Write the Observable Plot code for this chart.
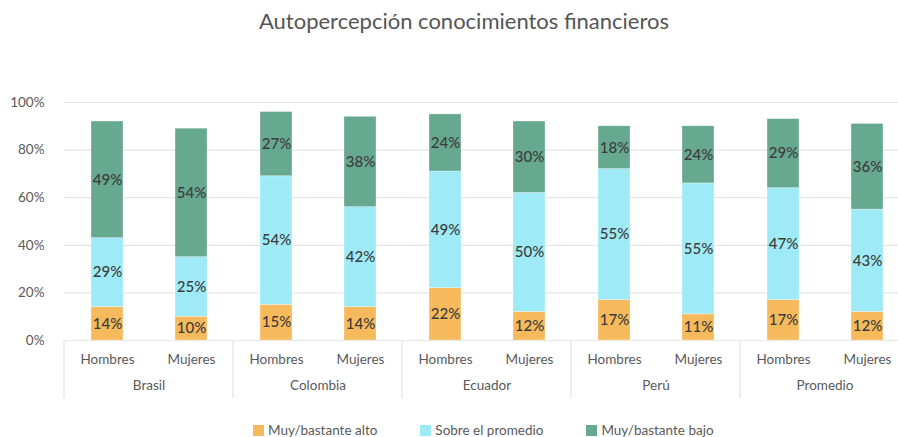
<!DOCTYPE html>
<html>
<head>
<meta charset="utf-8">
<script src="https://cdn.jsdelivr.net/npm/d3@7"></script>
<script src="https://cdn.jsdelivr.net/npm/@observablehq/plot@0.6"></script>
<style>
  html, body { margin: 0; padding: 0; background: #fff; overflow: hidden; width: 898px; height: 437px; }
  body { font-family: Lato, "Noto Sans", sans-serif; color: #595959; }
  #title { height: 40px; box-sizing: border-box; padding-left: 30px; text-align: center; font-size: 22px; line-height: 42px; color: #555; }
  #chart svg { display: block; }
  #legend { display: flex; align-items: center; padding-left: 253px; padding-top: 18px; font-size: 13.5px; line-height: 14px; color: #595959; }
  .item { display: flex; align-items: center; margin-right: 43px; }
  .sw { width: 11px; height: 11px; margin-right: 4px; }
</style>
</head>
<body>
<div id="title">Autopercepción conocimientos financieros</div>
<div id="chart"></div>
<div id="legend"></div>
<script>
const countries = ["Brasil", "Colombia", "Ecuador", "Perú", "Promedio"];
const genders = ["Hombres", "Mujeres"];
const levels = ["Muy/bastante alto", "Sobre el promedio", "Muy/bastante bajo"];
// order: Brasil H, Brasil M, Colombia H, Colombia M, Ecuador H, Ecuador M, Perú H, Perú M, Promedio H, Promedio M
const alto  = [14, 10, 15, 14, 22, 12, 17, 11, 17, 12];
const sobre = [29, 25, 54, 42, 49, 50, 55, 55, 47, 43];
const bajo  = [49, 54, 27, 38, 24, 30, 18, 24, 29, 36];
const yTicks = [0, 20, 40, 60, 80, 100];
const colors = ["#F6B95C", "#9EEBF7", "#67A891"];

const series = [alto, sobre, bajo];
const rows = [];
countries.forEach((c, ci) => {
  genders.forEach((g, gi) => {
    const i = ci * 2 + gi;
    levels.forEach((l, li) => rows.push({country: c, gender: g, level: l, value: series[li][i]}));
  });
});

const chart = Plot.plot({
  width: 898,
  height: 365,
  marginLeft: 64,
  marginRight: -11,
  marginTop: 62,
  marginBottom: 65,
  style: {fontFamily: "Lato, 'Noto Sans', sans-serif", fontSize: "13.5px", color: "#595959", background: "white"},
  fx: {domain: countries, padding: 0, label: null, axis: null},
  x: {domain: genders, paddingInner: 0.621, paddingOuter: 0.3105, axis: null, label: null},
  y: {domain: [0, 100], axis: null},
  color: {domain: levels, range: colors},
  marks: [
    Plot.gridY(yTicks, {stroke: "#e6e6e6", strokeOpacity: 1, strokeWidth: 1.2}),
    Plot.axisY(yTicks, {tickSize: 0, tickPadding: 20, tickFormat: d => d + "%", label: null, fill: "#595959"}),
    Plot.barY(rows, {fx: "country", x: "gender", y: "value", fill: "level", stroke: "white", strokeWidth: 0.6, strokeOpacity: 0.5}),
    Plot.text(rows, Plot.stackY({fx: "country", x: "gender", y: "value", text: d => d.value + "%", fill: "#3c3c3c", fontSize: 15, fontWeight: 500})),
    Plot.axisX({tickSize: 0, tickPadding: 14, label: null, fill: "#595959"}),
    Plot.axisFx({anchor: "bottom", tickSize: 0, tickPadding: 40, label: null, fill: "#595959"})
  ]
});
document.getElementById("chart").appendChild(chart);

// group separators below the baseline, positioned with the plot's own scales
const fxs = chart.scale("fx");
const ys = chart.scale("y");
const y0 = ys.apply(0);
const svg = d3.select(chart.tagName.toLowerCase() === "svg" ? chart : chart.querySelector("svg"));
const edges = countries.map(c => fxs.apply(c));
edges.push(fxs.apply(countries[countries.length - 1]) + fxs.bandwidth);
svg.append("g").selectAll("line").data(edges).join("line")
  .attr("x1", d => d).attr("x2", d => d)
  .attr("y1", y0).attr("y2", y0 + 58)
  .attr("stroke", "#e3e3e3").attr("stroke-width", 1.2);

const legend = document.getElementById("legend");
levels.forEach((l, i) => {
  const it = document.createElement("div");
  it.className = "item";
  it.innerHTML = `<div class="sw" style="background:${colors[i]}"></div><span>${l}</span>`;
  legend.appendChild(it);
});
</script>
</body>
</html>
